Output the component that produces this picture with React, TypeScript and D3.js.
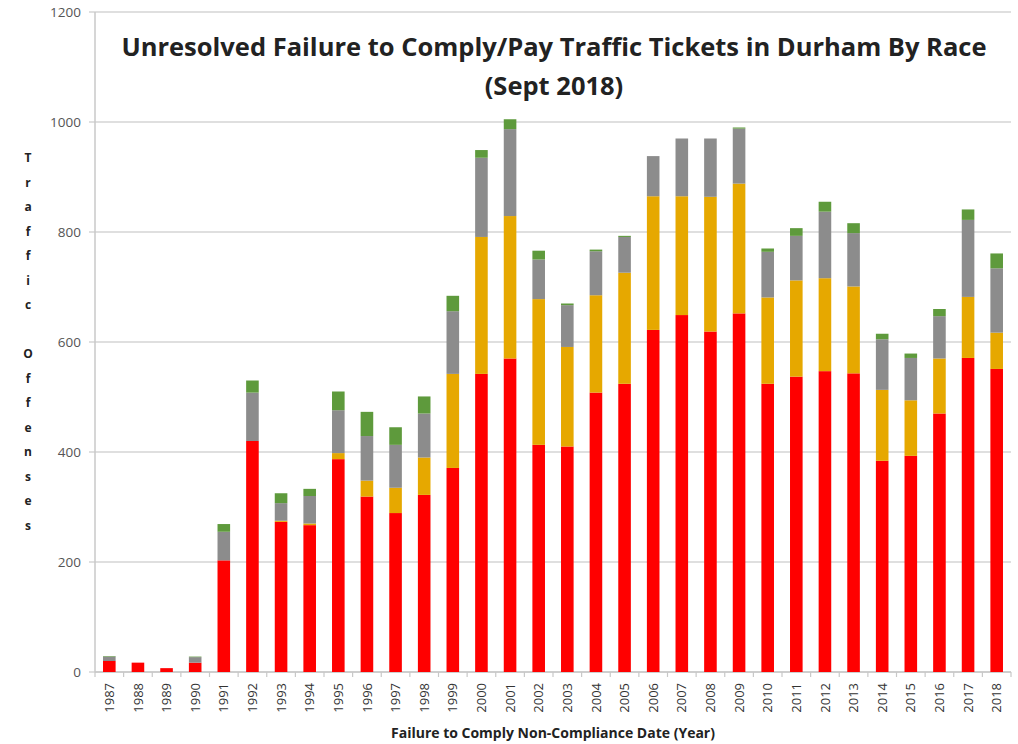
import React, { useEffect, useRef } from "react";
import * as d3 from "d3";

const years = [
  "1987","1988","1989","1990","1991","1992","1993","1994","1995","1996","1997","1998","1999","2000","2001","2002",
  "2003","2004","2005","2006","2007","2008","2009","2010","2011","2012","2013","2014","2015","2016","2017","2018",
];
const redVals = [20,17,7,17,203,420,273,267,387,319,289,322,371,542,570,413,410,508,524,622,649,619,652,524,537,547,543,384,393,470,571,551];
const orangeVals = [0,0,0,0,0,0,2,3,11,29,46,68,171,249,259,265,181,177,202,243,216,245,236,157,175,169,158,129,101,100,111,66];
const grayVals = [8,0,0,10,52,88,32,50,78,81,78,80,114,144,158,72,76,80,65,73,105,106,100,83,81,121,97,92,77,77,140,117];
const greenVals = [1,0,0,1,14,22,18,13,34,44,32,31,28,14,18,16,3,3,2,0,0,0,2,6,14,18,18,10,8,13,19,27];
const yTicks = [0, 200, 400, 600, 800, 1000, 1200];
const seriesKeys = ["red", "orange", "gray", "green"];
const seriesColors = ["#ff0000", "#e6a800", "#8c8c8c", "#5e9a3c"];
const titleLines = ["Unresolved Failure to Comply/Pay Traffic Tickets in Durham By Race", "(Sept 2018)"];
const yTitle = "Traffic Offenses";
const xTitle = "Failure to Comply Non-Compliance Date (Year)";

export default function App() {
  const ref = useRef<SVGSVGElement>(null);
  useEffect(() => {
    const svg = d3.select(ref.current);
    svg.selectAll("*").remove();
    const W = 1018, H = 744;
    const m = { left: 95, right: 7, top: 12, bottom: 72 };
    const x = d3.scaleBand<string>().domain(years).range([m.left, W - m.right]).paddingInner(0.56).paddingOuter(0.28);
    const y = d3.scaleLinear().domain([0, 1200]).range([H - m.bottom, m.top]);

    svg.append("rect").attr("width", W).attr("height", H).attr("fill", "#fff");

    // gridlines
    svg.append("g").selectAll("line").data(yTicks).join("line")
      .attr("x1", m.left - 6).attr("x2", W - m.right)
      .attr("y1", d => y(d)).attr("y2", d => y(d))
      .attr("stroke", "#d4d4d4").attr("stroke-width", 1.5);

    // y tick labels
    svg.append("g").selectAll("text").data(yTicks).join("text")
      .attr("x", m.left - 14).attr("y", d => y(d)).attr("dy", "0.35em")
      .attr("text-anchor", "end").attr("font-family", "Open Sans, sans-serif")
      .attr("font-size", 13.5).attr("fill", "#555").text(d => String(d));

    // axis lines
    svg.append("line").attr("x1", m.left).attr("x2", m.left).attr("y1", y(1200)).attr("y2", y(0))
      .attr("stroke", "#c8c8c8").attr("stroke-width", 1.5);
    svg.append("line").attr("x1", m.left).attr("x2", W - m.right).attr("y1", y(0)).attr("y2", y(0))
      .attr("stroke", "#c8c8c8").attr("stroke-width", 1.5);
    const tickPos = d3.range(years.length + 1).map(i => m.left + (W - m.right - m.left) * i / years.length);
    svg.append("g").selectAll("line").data(tickPos).join("line")
      .attr("x1", d => d).attr("x2", d => d).attr("y1", y(0)).attr("y2", y(0) + 5)
      .attr("stroke", "#c8c8c8").attr("stroke-width", 1.2);

    // stacked bars
    const rows = years.map((yr, i) => ({ year: yr, red: redVals[i], orange: orangeVals[i], gray: grayVals[i], green: greenVals[i] }));
    const stack = d3.stack<any>().keys(seriesKeys)(rows);
    stack.forEach((s, si) => {
      svg.append("g").attr("fill", seriesColors[si]).selectAll("rect").data(s).join("rect")
        .attr("x", d => x(d.data.year)!)
        .attr("width", x.bandwidth())
        .attr("y", d => y(d[1]))
        .attr("height", d => Math.max(0, y(d[0]) - y(d[1])));
    });

    // x tick labels
    svg.append("g").selectAll("text").data(years).join("text")
      .attr("transform", d => `translate(${x(d)! + x.bandwidth() / 2},${y(0) + 11}) rotate(-90)`)
      .attr("text-anchor", "end").attr("dy", "0.35em")
      .attr("font-family", "Open Sans, sans-serif").attr("font-size", 13).attr("fill", "#333")
      .text(d => d);

    // title
    svg.append("g").selectAll("text").data(titleLines).join("text")
      .attr("x", 554).attr("y", (d, i) => 56 + i * 39)
      .attr("text-anchor", "middle").attr("font-family", "Open Sans, sans-serif")
      .attr("font-weight", "bold").attr("font-size", 25.5).attr("fill", "#222")
      .text(d => d);

    // vertical y-axis title
    svg.append("g").selectAll("text").data(yTitle.split("")).join("text")
      .attr("x", 28).attr("y", (d, i) => 158 + i * 24.5).attr("dy", "0.35em")
      .attr("text-anchor", "middle").attr("font-family", "Open Sans, sans-serif")
      .attr("font-weight", "bold").attr("font-size", 12).attr("fill", "#222")
      .text(d => d);

    // x title
    svg.append("text").attr("x", 553).attr("y", 738).attr("text-anchor", "middle")
      .attr("font-family", "Open Sans, sans-serif").attr("font-weight", "bold")
      .attr("font-size", 14).attr("fill", "#222").text(xTitle);
  }, []);
  return (
    <svg ref={ref} width={1018} height={744} style={{ position: "absolute", left: 0, top: 0 }} />
  );
}
